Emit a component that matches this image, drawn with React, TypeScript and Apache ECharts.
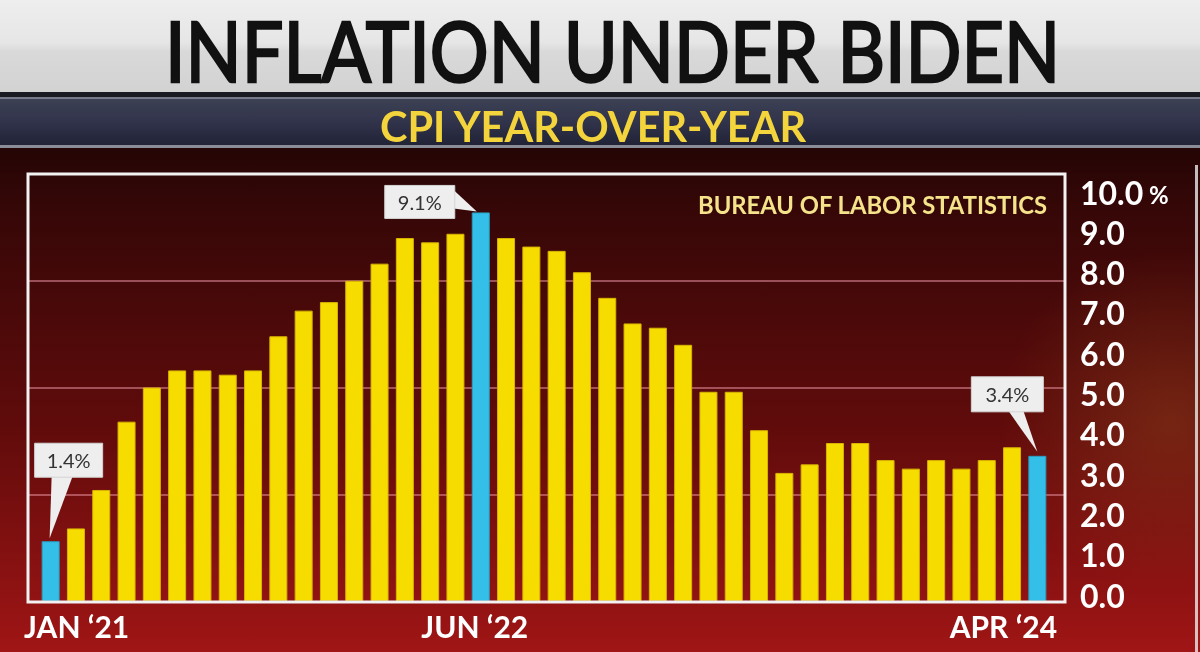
import React, { useEffect, useRef } from 'react';
import * as echarts from 'echarts';

const months = [
  'JAN ‘21', 'FEB ‘21', 'MAR ‘21', 'APR ‘21', 'MAY ‘21', 'JUN ‘21', 'JUL ‘21', 'AUG ‘21', 'SEP ‘21', 'OCT ‘21', 'NOV ‘21', 'DEC ‘21',
  'JAN ‘22', 'FEB ‘22', 'MAR ‘22', 'APR ‘22', 'MAY ‘22', 'JUN ‘22', 'JUL ‘22', 'AUG ‘22', 'SEP ‘22', 'OCT ‘22', 'NOV ‘22', 'DEC ‘22',
  'JAN ‘23', 'FEB ‘23', 'MAR ‘23', 'APR ‘23', 'MAY ‘23', 'JUN ‘23', 'JUL ‘23', 'AUG ‘23', 'SEP ‘23', 'OCT ‘23', 'NOV ‘23', 'DEC ‘23',
  'JAN ‘24', 'FEB ‘24', 'MAR ‘24', 'APR ‘24',
];

const cpiYoY = [
  1.4, 1.7, 2.6, 4.2, 5.0, 5.4, 5.4, 5.3, 5.4, 6.2, 6.8, 7.0,
  7.5, 7.9, 8.5, 8.4, 8.6, 9.1, 8.5, 8.3, 8.2, 7.7, 7.1, 6.5,
  6.4, 6.0, 4.9, 4.9, 4.0, 3.0, 3.2, 3.7, 3.7, 3.3, 3.1, 3.3,
  3.1, 3.3, 3.6, 3.4,
];

const highlighted = [0, 17, 39];
const calloutLabels = ['1.4%', '9.1%', '3.4%'];
const shownMonthIdx = [0, 17, 39];
const yMin = 0;
const yMax = 10;
const yStep = 1;
const gridStep = 2.5;

const titleText = 'INFLATION UNDER BIDEN';
const subtitleText = 'CPI YEAR-OVER-YEAR';
const sourceText = 'BUREAU OF LABOR STATISTICS';

const YELLOW = '#f7dc00';
const BLUE = '#34bfe8';
const FONT = 'Lato, "Open Sans", "DejaVu Sans", sans-serif';

function measure(text: string, font: string): number {
  const ctx = document.createElement('canvas').getContext('2d');
  if (!ctx) return text.length * 20;
  ctx.font = font;
  return ctx.measureText(text).width;
}

function fittedText(id: string, text: string, x: number, y: number, width: number, size: number, weight: string, fill: string, strokeWidth = 0) {
  const w = measure(text, `${weight} ${size}px Lato`);
  const style: any = { text, fontSize: size, fontWeight: weight, fontFamily: FONT, fill, align: 'left', verticalAlign: 'middle' };
  if (strokeWidth > 0) {
    style.stroke = fill;
    style.lineWidth = strokeWidth;
  }
  return { type: 'text', id, x, y, z: 50, scaleX: width / w, scaleY: 1, style };
}

export default function App() {
  const ref = useRef<HTMLDivElement>(null);

  useEffect(() => {
    document.body.style.margin = '0';
    const chart = echarts.init(ref.current!, null, { renderer: 'svg' });

    const background = [
      {
        type: 'rect', id: 'bgRed', z: -100, shape: { x: 0, y: 148, width: 1200, height: 504 },
        style: {
          fill: new echarts.graphic.LinearGradient(0, 0, 0, 1, [
            { offset: 0, color: '#250505' },
            { offset: 0.12, color: '#360707' },
            { offset: 0.55, color: '#600b0b' },
            { offset: 1, color: '#a01515' },
          ]),
        },
      },
      {
        type: 'circle', id: 'bgGlow', z: -99, shape: { cx: 1170, cy: 420, r: 170 },
        style: {
          fill: new echarts.graphic.RadialGradient(0.5, 0.5, 0.5, [
            { offset: 0, color: 'rgba(150,75,30,0.4)' },
            { offset: 1, color: 'rgba(150,75,30,0)' },
          ]),
        },
      },
      {
        type: 'rect', id: 'banner1', z: -90, shape: { x: 0, y: 0, width: 1200, height: 94 },
        style: {
          fill: new echarts.graphic.LinearGradient(0, 0, 0, 1, [
            { offset: 0, color: '#eeeeee' },
            { offset: 0.45, color: '#e6e6e6' },
            { offset: 0.55, color: '#d9d9d9' },
            { offset: 1, color: '#d2d2d2' },
          ]),
        },
      },
      { type: 'rect', id: 'sep', z: -89, shape: { x: 0, y: 92, width: 1200, height: 5 }, style: { fill: '#1a1a22' } },
      {
        type: 'rect', id: 'banner2', z: -88, shape: { x: 0, y: 97, width: 1200, height: 51 },
        style: {
          fill: new echarts.graphic.LinearGradient(0, 0, 0, 1, [
            { offset: 0, color: '#3e4254' },
            { offset: 0.5, color: '#30334a' },
            { offset: 1, color: '#1f2234' },
          ]),
        },
      },
      { type: 'rect', id: 'b2top', z: -87, shape: { x: 0, y: 97, width: 1200, height: 2 }, style: { fill: '#767a8a' } },
      { type: 'rect', id: 'b2bot', z: -87, shape: { x: 0, y: 145, width: 1200, height: 3 }, style: { fill: '#8a8c98' } },
      { type: 'rect', id: 'edge', z: -86, shape: { x: 1195, y: 165, width: 3, height: 487 }, style: { fill: 'rgba(235,235,235,0.8)' } },
      {
        type: 'rect', id: 'frame', z: 40, shape: { x: 28, y: 174, width: 1037, height: 428 },
        style: { fill: 'none', stroke: '#f2f2f2', lineWidth: 3 },
      },
      fittedText('title', titleText, 165, 50, 895, 84, 'normal', '#111111', 2.5),
      fittedText('subtitle', subtitleText, 380, 126, 428, 42, 'bold', '#f3d43c'),
      fittedText('source', sourceText, 698, 204, 350, 25, 'bold', '#f4e38a'),
    ];

    const xLabelStyle = { color: '#ffffff', fontSize: 30, fontWeight: 'bold', fontFamily: FONT };

    const option: any = {
      animation: false,
      grid: [
        { left: 38, right: 150, top: 174, bottom: 51 },
        { left: 38, right: 150, top: 192, bottom: 57 },
        { left: 29, right: 136, top: 174, bottom: 51 },
      ],
      xAxis: [
        {
          type: 'category', gridIndex: 0, data: months,
          axisLine: { show: false }, axisTick: { show: false },
          axisLabel: {
            interval: (i: number) => shownMonthIdx.includes(i),
            margin: 10,
            formatter: (v: string, i: number) => (i === 0 ? `{l|${v}}` : i === 39 ? `{r|${v}}` : `{m|${v}}`),
            rich: {
              l: { ...xLabelStyle, padding: [0, 0, 0, 52] },
              m: { ...xLabelStyle, padding: [0, 12, 0, 0] },
              r: { ...xLabelStyle, padding: [0, 68, 0, 0] },
            },
          },
        },
        { type: 'value', gridIndex: 1, min: 0, max: 1, show: false },
        { type: 'value', gridIndex: 2, min: 0, max: 1, show: false },
      ],
      yAxis: [
        {
          type: 'value', gridIndex: 0, min: yMin, max: yMax, interval: yStep,
          axisLabel: { show: false }, axisLine: { show: false }, axisTick: { show: false }, splitLine: { show: false },
        },
        {
          type: 'value', gridIndex: 1, position: 'right', min: yMin, max: yMax, interval: yStep,
          axisLine: { show: false }, axisTick: { show: false }, splitLine: { show: false },
          axisLabel: {
            margin: 30, color: '#ffffff', fontSize: 32, fontWeight: 'bold', fontFamily: FONT,
            formatter: (v: number) => (v === yMax ? `{a|${v.toFixed(1)}}{b| %}` : v.toFixed(1)),
            rich: {
              a: { color: '#ffffff', fontSize: 32, fontWeight: 'bold', fontFamily: FONT },
              b: { color: '#ffffff', fontSize: 24, fontWeight: 'bold', fontFamily: FONT, padding: [4, 0, 0, 0] },
            },
          },
        },
        {
          type: 'value', gridIndex: 2, min: yMin, max: yMax, interval: gridStep,
          axisLabel: { show: false }, axisLine: { show: false }, axisTick: { show: false },
          splitLine: { show: true, showMinLine: false, showMaxLine: false, lineStyle: { color: 'rgba(225,140,155,0.55)', width: 2 } },
        },
      ],
      series: [
        {
          type: 'bar', xAxisIndex: 0, yAxisIndex: 0, barWidth: 18, z: 5,
          data: cpiYoY.map((v, i) => ({
            value: v,
            itemStyle: { color: highlighted.includes(i) ? BLUE : YELLOW, borderColor: highlighted.includes(i) ? '#2a9cc0' : '#d8b400', borderWidth: 1 },
          })),
        },
      ],
      graphic: background,
    };

    chart.setOption(option);

    const callouts: any[] = [];
    highlighted.forEach((idx, k) => {
      const [px, py] = chart.convertToPixel({ seriesIndex: 0 }, [idx, cpiYoY[idx]]) as number[];
      let box: { x: number; y: number; w: number; h: number };
      let pts: number[][];
      if (k === 0) {
        box = { x: px - 16, y: py - 98, w: 68, h: 34 };
        pts = [[px + 1, box.y + box.h - 1], [px + 22, box.y + box.h - 1], [px - 1, py - 3]];
      } else if (k === 1) {
        box = { x: px - 96, y: py - 27, w: 70, h: 33 };
        pts = [[px - 32, py - 27], [px - 4, py - 1], [px - 27, py - 4]];
      } else {
        box = { x: px - 66, y: py - 79, w: 72, h: 35 };
        pts = [[px - 29, box.y + box.h - 1], [px - 14, box.y + box.h - 1], [px, py - 4]];
      }
      callouts.push(
        { type: 'polygon', id: `cp${k}`, z: 60, shape: { points: pts }, style: { fill: '#eeeeee' } },
        { type: 'rect', id: `cb${k}`, z: 61, shape: { x: box.x, y: box.y, width: box.w, height: box.h }, style: { fill: '#eeeeee', stroke: '#d4d4d4', lineWidth: 1 } },
        {
          type: 'text', id: `ct${k}`, z: 62, x: box.x + box.w / 2, y: box.y + box.h / 2,
          style: { text: calloutLabels[k], fontSize: 20, fontFamily: FONT, fill: '#333333', align: 'center', verticalAlign: 'middle' },
        },
      );
    });

    chart.setOption({ graphic: [...background, ...callouts] });

    return () => chart.dispose();
  }, []);

  return <div ref={ref} style={{ position: 'fixed', left: 0, top: 0, width: 1200, height: 652 }} />;
}
